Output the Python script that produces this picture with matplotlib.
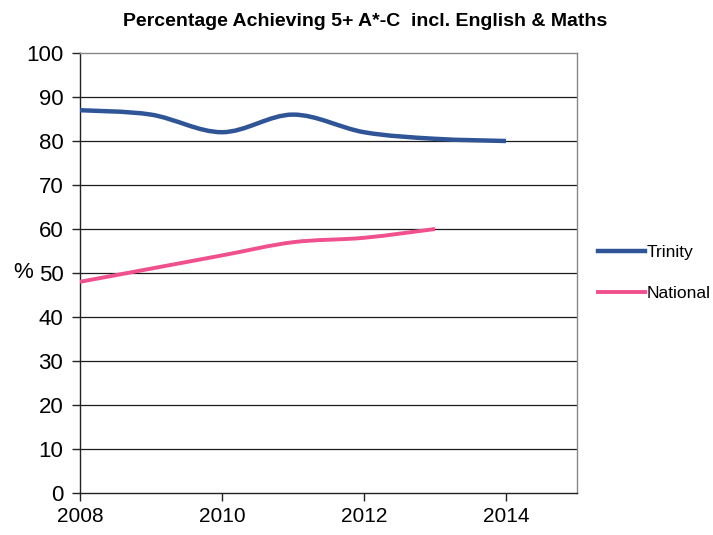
import matplotlib
matplotlib.use("Agg")
import matplotlib.pyplot as plt
from matplotlib.path import Path
from matplotlib.patches import PathPatch
import numpy as np

title = "Percentage Achieving 5+ A*-C  incl. English & Maths"
trinity_years = [2008, 2009, 2010, 2011, 2012, 2013, 2014]
trinity_vals = [87, 86, 82, 86, 82, 80.5, 80]
national_years = [2008, 2009, 2010, 2011, 2012, 2013]
national_vals = [48, 51, 54, 57, 58, 60]
x_ticks = [2008, 2010, 2012, 2014]
y_ticks = [0, 10, 20, 30, 40, 50, 60, 70, 80, 90, 100]

plt.rcParams['font.family'] = ['Liberation Sans', 'DejaVu Sans']

fig = plt.figure(figsize=(7.13, 5.35), dpi=100)
ax = fig.add_axes([80/713, 1-493/535, (577-80)/713, (493-53)/535])


def smooth_path(xs, ys):
    xs = np.asarray(xs, float)
    ys = np.asarray(ys, float)
    n = len(xs)
    verts = [(xs[0], ys[0])]
    codes = [Path.MOVETO]
    for i in range(n - 1):
        p0 = i - 1 if i > 0 else i
        p3 = i + 2 if i + 2 < n else i + 1
        c1 = (xs[i] + (xs[i+1] - xs[p0]) / 6, ys[i] + (ys[i+1] - ys[p0]) / 6)
        c2 = (xs[i+1] - (xs[p3] - xs[i]) / 6, ys[i+1] - (ys[p3] - ys[i]) / 6)
        verts += [c1, c2, (xs[i+1], ys[i+1])]
        codes += [Path.CURVE4] * 3
    return Path(verts, codes)


blue = '#2F5597'
pink = '#F0508E'
for xs, ys, c, lw in [(trinity_years, trinity_vals, blue, 3.2),
                      (national_years, national_vals, pink, 2.8)]:
    patch = PathPatch(smooth_path(xs, ys), facecolor='none', edgecolor=c,
                      lw=lw, capstyle='butt', zorder=3)
    ax.add_patch(patch)

# legend proxies
ax.plot([], [], color=blue, lw=3.2, label='Trinity')
ax.plot([], [], color=pink, lw=2.8, label='National')

ax.set_xlim(2008, 2015)
ax.set_ylim(0, 100)
ax.set_xticks(x_ticks)
ax.set_yticks(y_ticks)
ax.set_xticklabels([str(v) for v in x_ticks], fontsize=15)
ax.set_yticklabels([str(v) for v in y_ticks], fontsize=16)
ax.tick_params(axis='both', direction='out', length=6, width=1, color='#222222')
ax.tick_params(axis='y', pad=6)
ax.tick_params(axis='x', pad=4)
for v in y_ticks[1:-1]:
    ax.axhline(v, color='#1a1a1a', lw=0.9, zorder=1)
ax.spines['left'].set_color('#222222')
ax.spines['bottom'].set_color('#222222')
ax.spines['top'].set_color('#888888')
ax.spines['right'].set_color('#888888')
for s in ax.spines.values():
    s.set_linewidth(1.0)

ax.set_ylabel('%', rotation=0, fontsize=16, labelpad=8, va='center')
ax.yaxis.set_label_coords(-0.115, 0.5)

fig.text(365/713, 1-22/535, title, ha='center', va='center', fontsize=14,
         fontweight='bold')

leg = fig.legend(loc='center left', bbox_to_anchor=(598/713, 1-273/535),
                 frameon=False, fontsize=12.5, handlelength=2.7, handletextpad=0.1,
                 labelspacing=1.45, borderpad=0, borderaxespad=0)

fig.savefig('out.png', dpi=100)
